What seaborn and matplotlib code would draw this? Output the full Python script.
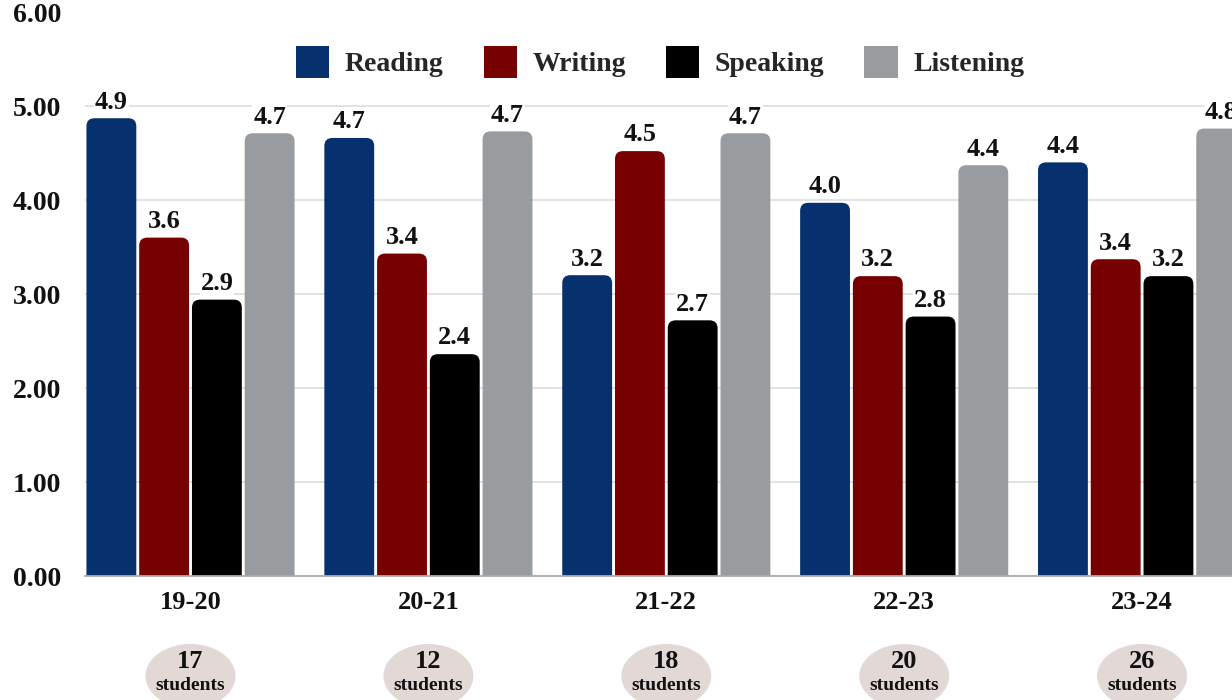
import matplotlib
matplotlib.use("Agg")
import matplotlib.pyplot as plt
import matplotlib.transforms as mtransforms
from matplotlib.patches import FancyBboxPatch, Ellipse, Patch
import seaborn as sns
import pandas as pd

years = ["19-20", "20-21", "21-22", "22-23", "23-24"]
skills = ["Reading", "Writing", "Speaking", "Listening"]
reading = [4.87, 4.66, 3.20, 3.97, 4.40]
writing = [3.60, 3.43, 4.52, 3.19, 3.37]
speaking = [2.94, 2.36, 2.72, 2.76, 3.19]
listening = [4.71, 4.73, 4.71, 4.37, 4.76]
students = [17, 12, 18, 20, 26]
colors = ["#06316e", "#770000", "#000000", "#999c9f"]

rows = []
for skill, vals in zip(skills, [reading, writing, speaking, listening]):
    for yr, v in zip(years, vals):
        rows.append({"year": yr, "skill": skill, "score": v})
df = pd.DataFrame(rows)

sns.set_theme(style="white")
plt.rcParams["font.family"] = ["Liberation Serif", "DejaVu Serif"]
plt.rcParams["font.weight"] = "bold"

fig = plt.figure(figsize=(12.32, 7.0), dpi=100)
ax = fig.add_axes([85 / 1232, 1 - 576 / 700, 1 - 85 / 1232, 564 / 700])

sns.barplot(data=df, x="year", y="score", hue="skill", order=years,
            hue_order=skills, palette=colors, width=0.887, gap=0.055,
            legend=False, ax=ax, saturation=1, err_kws={"linewidth": 0})

# rounded tops
rx = 8 / 238
asp = (8 / 94) / rx
rects = [p for p in ax.patches]
for p in rects:
    x, w, h = p.get_x(), p.get_width(), p.get_height()
    fc = p.get_facecolor()
    p.remove()
    fb = FancyBboxPatch((x, -0.3), w, h + 0.3,
                        boxstyle=f"round,pad=0,rounding_size={rx}",
                        mutation_aspect=asp, facecolor=fc, edgecolor="none",
                        zorder=2)
    ax.add_patch(fb)
    ax.text(x + w / 2, h + 0.05, f"{h:.1f}", ha="center", va="bottom",
            fontsize=19, fontweight="bold", color="#111111", zorder=3,
            bbox=dict(facecolor="white", edgecolor="none", pad=0.5))

ax.set_xlim(-0.4435, 4.378)
ax.set_ylim(0, 6)
ax.set_yticks(range(7))
ax.set_yticklabels([f"{v:.2f}" for v in range(7)])
ax.yaxis.grid(True, color="#dddddd", linewidth=1.2, zorder=0)
ax.set_axisbelow(True)
ax.get_ygridlines()[-1].set_visible(False)
ax.get_ygridlines()[0].set_visible(False)
for s in ["top", "right", "left"]:
    ax.spines[s].set_visible(False)
ax.spines["bottom"].set_color("#aaaaaa")
ax.spines["bottom"].set_linewidth(1.3)
ax.spines["bottom"].set_zorder(4)
ax.tick_params(axis="y", length=0, pad=52, labelsize=20)
for t in ax.get_yticklabels():
    t.set_horizontalalignment("left")
    t.set_fontweight("bold")
    t.set_color("#111111")
ax.tick_params(axis="x", length=0, pad=11, labelsize=19)
for t in ax.get_xticklabels():
    t.set_fontweight("bold")
    t.set_color("#111111")
ax.set_xlabel("")
ax.set_ylabel("")

handles = [Patch(facecolor=c, edgecolor="none", label=s) for c, s in zip(colors, skills)]
fig.legend(handles=handles, loc="center", bbox_to_anchor=(660 / 1232, 1 - 62 / 700),
           ncol=4, frameon=False, handlelength=1.2, handleheight=1.35,
           handletextpad=0.55, columnspacing=1.45,
           prop={"weight": "bold", "size": 20})

trans = mtransforms.blended_transform_factory(ax.transData, fig.transFigure)
for i, n in enumerate(students):
    e = Ellipse((i, 1 - 676 / 700), 90 / 238, 64 / 700, transform=trans,
                facecolor="#e2d9d6", edgecolor="none", clip_on=False, zorder=1)
    ax.add_patch(e)
    ax.text(i, 1 - 662 / 700, str(n), transform=trans, ha="center", va="center",
            fontsize=19, fontweight="bold", color="#111111", clip_on=False, zorder=5)
    ax.text(i, 1 - 686 / 700, "students", transform=trans, ha="center", va="center",
            fontsize=14, fontweight="bold", color="#111111", clip_on=False, zorder=5)

fig.savefig("out.png", dpi=100)
